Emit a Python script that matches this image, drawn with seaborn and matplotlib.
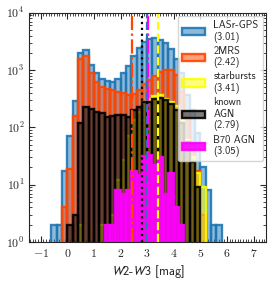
import numpy as np
import pandas as pd
import matplotlib
matplotlib.use('Agg')
import matplotlib.pyplot as plt
from matplotlib.ticker import MultipleLocator
import seaborn as sns

# histogram bins (width 0.2 mag)
bin_edges = np.round(np.arange(-0.6, 5.81, 0.2), 1)
bin_centers = bin_edges[:-1] + 0.1

# counts per bin
lasr_counts = [2, 2, 17, 70, 290, 1950, 2240, 1230, 900, 690, 653, 612, 690, 900, 1180, 1750,
               2400, 3130, 3450, 3590, 3350, 3000, 2300, 1540, 880, 370, 200, 80, 20, 8, 2, 2]
mrs_counts = [0, 0, 4, 19, 155, 1540, 1760, 880, 630, 500, 462, 450, 420, 394, 368, 380,
              450, 560, 680, 780, 940, 1000, 1000, 820, 420, 150, 38, 17, 3, 0, 0, 0]
sb_counts = [0, 0, 0, 0, 0, 2, 0, 0, 0, 2, 1, 3, 12, 27, 70, 134,
             188, 280, 310, 353, 360, 310, 281, 235, 134, 60, 30, 16, 9, 0, 0, 0]
agn_counts = [0, 0, 0, 2, 3, 120, 226, 209, 188, 180, 154, 160, 167, 167, 154, 200,
              226, 281, 281, 310, 320, 300, 256, 200, 118, 55, 25, 9, 0, 0, 0, 0]
b70_counts = [0, 0, 0, 0, 0, 0, 0, 0, 0, 0, 2, 2, 8, 7, 8, 17,
              15, 31, 33, 22, 30, 7, 16, 4, 2, 0, 0, 0, 0, 0, 0, 0]

names = ['LASr-GPS', '2MRS', 'starbursts', 'known\nAGN', 'B70 AGN']
medians = [3.01, 2.42, 3.41, 2.79, 3.05]
colors = ['tab:blue', 'orangered', 'yellow', 'k', 'magenta']
alphas = [0.5, 0.5, 0.5, 0.5, 0.9]
all_counts = [lasr_counts, mrs_counts, sb_counts, agn_counts, b70_counts]

sns.set_style('ticks')
plt.rcParams['font.family'] = 'serif'
plt.rcParams['font.serif'] = ['cmr10']
plt.rcParams['mathtext.fontset'] = 'cm'
plt.rcParams['axes.formatter.use_mathtext'] = True
plt.rcParams['axes.unicode_minus'] = True

fig, ax = plt.subplots(figsize=(2.74, 2.83), dpi=100)
fig.subplots_adjust(left=0.107, right=0.970, top=0.955, bottom=0.145)

for name, med, c, a, counts in zip(names, medians, colors, alphas, all_counts):
    df = pd.DataFrame({'w23': bin_centers, 'n': counts})
    sns.histplot(data=df, x='w23', weights='n', bins=list(bin_edges), ax=ax,
                 color=c, alpha=a, edgecolor=matplotlib.colors.to_rgba(c, 0.9),
                 linewidth=1.7, label=f'{name}\n({med:.2f})')

ax.set_yscale('log')

# median lines
ax.axvline(medians[1], color='orangered', ls='-.', lw=1.6)
ax.axvline(medians[3], color='k', ls=':', lw=1.6)
ax.axvline(medians[0], color='tab:blue', ls='--', lw=1.6)
ax.axvline(medians[4], color='magenta', ls='-.', lw=1.6)
ax.axvline(medians[2], color='yellow', ls='--', lw=1.6)

ax.set_xlim(-1.43, 7.46)
ax.set_ylim(1, 1e4)
ax.xaxis.set_major_locator(MultipleLocator(1))
ax.xaxis.set_minor_locator(MultipleLocator(0.1))
ax.tick_params(which='both', direction='in', top=True, right=True, labelsize=8.5)
ax.tick_params(which='major', length=4, width=0.8)
ax.tick_params(which='minor', length=2, width=0.6)
ax.set_ylabel('')
ax.set_xlabel(r'$\mathit{W2}$-$\mathit{W3}$ [mag]', fontsize=9, family='cmss10',
              math_fontfamily='stixsans', labelpad=3)

ax.legend(loc='upper right', prop={'family': 'cmss10', 'size': 7.5},
          labelspacing=0.3, handlelength=2.2, handletextpad=0.8,
          borderaxespad=0.3, framealpha=0.8, fancybox=True)

plt.savefig('out.png', dpi=100)
